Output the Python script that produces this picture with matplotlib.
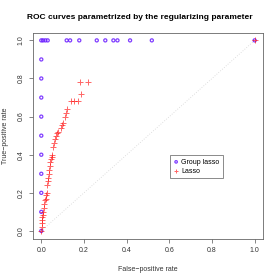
import numpy as np
import matplotlib
matplotlib.use("Agg")
import matplotlib.pyplot as plt

# group lasso ROC points
grp_fpr = [0, 0, 0, 0, 0, 0, 0, 0, 0, 0, 0,
           0.008, 0.019, 0.03, 0.119, 0.135, 0.178, 0.26, 0.30,
           0.338, 0.357, 0.416, 0.518, 1.0]
grp_tpr = [0, 0.1, 0.2, 0.3, 0.4, 0.5, 0.6, 0.7, 0.8, 0.9, 1.0,
           1, 1, 1, 1, 1, 1, 1, 1, 1, 1, 1, 1, 1.0]

# lasso ROC points
las_fpr = [0, 0.002, 0.003, 0.004, 0.005, 0.007, 0.009, 0.012, 0.014, 0.018,
           0.022, 0.024, 0.025, 0.028, 0.030, 0.033, 0.035, 0.038, 0.040, 0.041,
           0.045, 0.048, 0.050, 0.055, 0.060, 0.064, 0.069, 0.072, 0.076, 0.091,
           0.096, 0.103, 0.113, 0.116, 0.119, 0.139, 0.155, 0.171, 0.185, 0.182,
           0.218, 1.0]
las_tpr = [0, 0.02, 0.04, 0.06, 0.075, 0.085, 0.10, 0.12, 0.14, 0.16,
           0.17, 0.19, 0.20, 0.24, 0.26, 0.28, 0.30, 0.32, 0.34, 0.36,
           0.38, 0.39, 0.40, 0.44, 0.46, 0.48, 0.50, 0.515, 0.52, 0.54,
           0.555, 0.565, 0.60, 0.62, 0.64, 0.68, 0.68, 0.68, 0.72, 0.78,
           0.78, 1.0]

plt.rcParams['font.family'] = ['Liberation Sans', 'DejaVu Sans']

fig = plt.figure(figsize=(2.8, 2.8), dpi=100)
ax = fig.add_axes([0.117, 0.148, 0.823, 0.735])

ax.plot([0, 1], [0, 1], linestyle=(0, (1, 2)), color='#d4d4d4', lw=0.6)
ax.scatter(grp_fpr, grp_tpr, s=5, facecolors='none', edgecolors='#6a1cff',
           linewidths=0.9, alpha=0.85, label='Group lasso', zorder=3)
ax.scatter(las_fpr, las_tpr, s=20, marker='+', color='#ff0000',
           linewidths=0.7, alpha=0.6, label='Lasso', zorder=4)

ax.set_xlim(-0.04, 1.04)
ax.set_ylim(-0.04, 1.04)
ax.set_xticks(np.arange(0, 1.01, 0.2))
ax.set_yticks(np.arange(0, 1.01, 0.2))
ax.set_xticklabels(['0.0', '0.2', '0.4', '0.6', '0.8', '1.0'])
ax.set_yticklabels(['0.0', '0.2', '0.4', '0.6', '0.8', '1.0'],
                   rotation=90, va='center')
ax.tick_params(labelsize=5, length=3, width=0.5, color='#555555',
               labelcolor='#333333', pad=3)
for sp in ax.spines.values():
    sp.set_linewidth(0.6)
    sp.set_color('#666666')

ax.set_xlabel('False\u2212positive rate', fontsize=5, labelpad=9, color='#333333')
ax.set_ylabel('True\u2212positive rate', fontsize=5, labelpad=6, color='#333333')
fig.suptitle('ROC curves parametrized by the regularizing parameter',
             fontsize=6, fontweight='bold', y=0.95)

leg = ax.legend(loc='upper left', bbox_to_anchor=(0.595, 0.405), fontsize=5,
                frameon=True, fancybox=False, handletextpad=0.3,
                borderpad=0.5, labelspacing=0.3, handlelength=0.8,
                borderaxespad=0, markerscale=0.8)
leg.get_frame().set_edgecolor('#555555')
leg.get_frame().set_linewidth(0.6)

fig.savefig("out.png", dpi=100)
